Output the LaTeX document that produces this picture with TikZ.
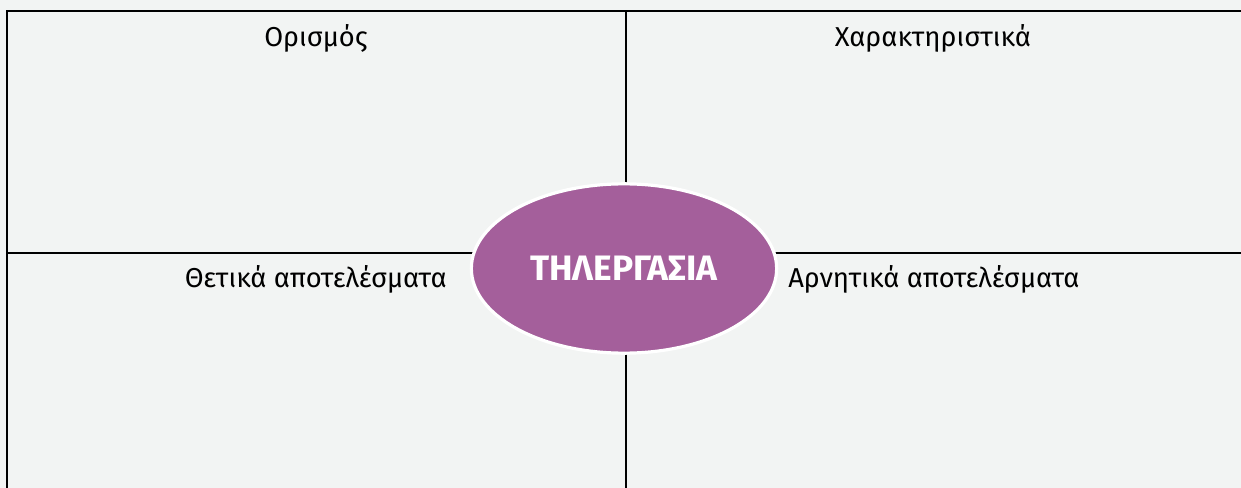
\documentclass[tikz,border=0pt]{standalone}
\usepackage{fontspec}
\setmainfont{Fira Sans}
\usetikzlibrary{shapes.geometric}
\definecolor{bg}{HTML}{F2F4F3}
\definecolor{hub}{HTML}{A45F9B}
\tikzset{
  gridline/.style={draw=black, line width=1.3pt},
  label/.style={font=\fontsize{20.5}{24}\selectfont, text=black, inner sep=0pt},
  hubnode/.style={ellipse, fill=hub, draw=white, line width=2.4pt, minimum width=229pt, minimum height=127pt, inner sep=0pt, text depth=0pt, text=white, font=\fontsize{26.5}{30}\selectfont\bfseries}
}
\begin{document}
\begin{tikzpicture}[x=0.75pt,y=-0.75pt]
  \fill[bg] (0,0) rectangle (1241,488);
  \useasboundingbox (0,0) rectangle (1241,488);
  \coordinate (tl) at (7,11);
  \coordinate (tr) at (1241,11);
  \coordinate (bl) at (7,488);
  \coordinate (ml) at (7,253);
  \coordinate (mr) at (1241,253);
  \coordinate (tm) at (626,11);
  \coordinate (bm) at (626,488);
  \draw[gridline] (tr) -- (tl) -- (bl);
  \draw[gridline] (ml) -- (mr);
  \draw[gridline] (tm) -- (bm);
  \node[hubnode] (hub) at (624,268.5) {ΤΗΛΕΡΓΑΣΙΑ};
  \node[label, anchor=base] (def) at (316,47) {Ορισμός};
  \node[label, anchor=base] (feat) at (933,47) {Χαρακτηριστικά};
  \node[label, anchor=base east] (pos) at (447,287) {Θετικά αποτελέσματα};
  \node[label, anchor=base west] (neg) at (788,287) {Αρνητικά αποτελέσματα};
\end{tikzpicture}
\end{document}
